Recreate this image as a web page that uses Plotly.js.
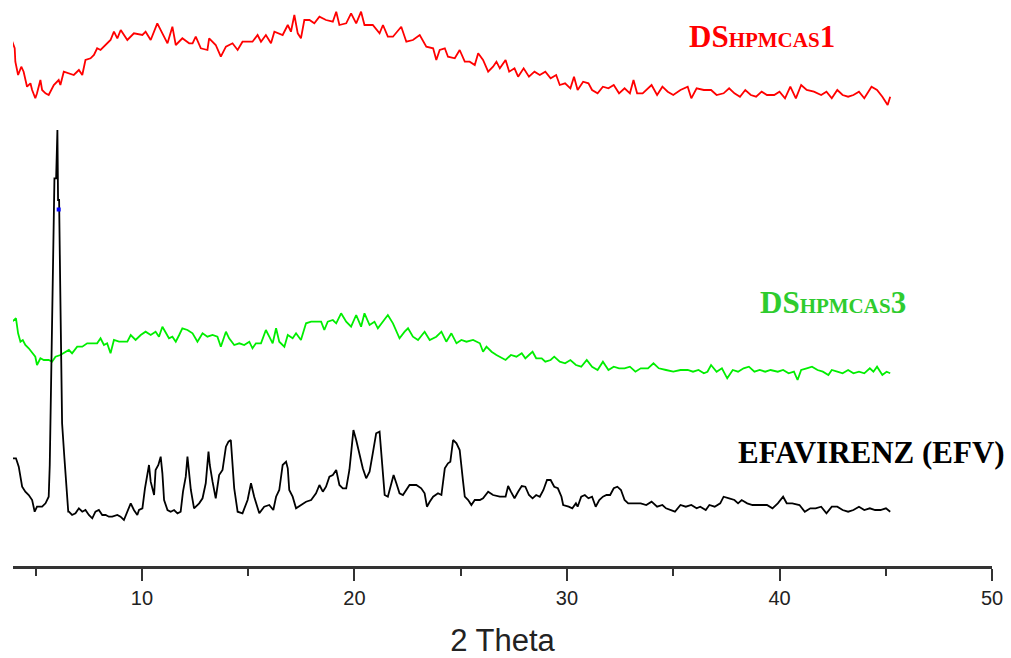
<!DOCTYPE html>
<html>
<head>
<meta charset="utf-8">
<script src="https://cdn.plot.ly/plotly-3.0.1.min.js"></script>
<style>html,body{margin:0;padding:0;background:#fff;}#chart{width:1011px;height:658px;}</style>
</head>
<body>
<div id="chart"></div>
<script>
// ---- Data (2θ in degrees, intensity in arbitrary stacked units) ----
const ds1TwoTheta = [3.88,4.01,4.04,4.17,4.32,4.43,4.59,4.75,4.83,4.98,5.06,5.22,5.30,5.46,5.61,5.85,6.08,6.16,6.32,6.56,6.79,7.03,7.19,7.34,7.58,7.74,7.89,8.05,8.29,8.52,8.68,8.84,9.00,9.31,9.62,10.02,10.17,10.41,10.72,10.96,11.20,11.43,11.59,11.90,12.22,12.38,12.53,12.77,13.08,13.16,13.47,13.71,13.95,14.26,14.50,14.73,15.20,15.44,15.60,15.83,16.07,16.23,16.62,16.86,17.01,17.17,17.33,17.48,17.64,17.88,18.11,18.35,18.66,18.98,19.14,19.29,19.61,19.84,20.08,20.31,20.47,20.86,21.18,21.34,21.57,21.81,22.20,22.44,22.75,23.07,23.38,23.70,23.85,24.01,24.25,24.40,24.72,24.95,25.19,25.42,25.66,25.82,26.05,26.29,26.52,26.68,26.84,
  27.11,27.28,27.53,27.70,27.96,28.21,28.47,28.72,28.98,29.23,29.49,29.66,29.91,30.16,30.33,30.50,30.76,31.01,31.18,31.44,31.69,31.95,32.20,32.45,32.71,32.96,33.13,33.30,33.56,33.81,33.98,34.24,34.49,34.74,35.00,35.34,35.68,35.85,36.10,36.44,36.78,37.04,37.37,37.63,37.88,38.14,38.39,38.65,38.90,39.16,39.41,39.75,40.00,40.26,40.51,40.77,41.02,41.28,41.62,41.96,42.21,42.46,42.72,42.97,43.23,43.48,43.74,43.99,44.33,44.59,44.84,45.09,45.21];
const ds1Intensity = [525.3,517.7,504.3,491,499.3,494.3,479.3,482.7,476,467.7,472.7,486,476,472.7,471,481,486,481,494.3,492.7,491,496,491,506,507.7,511,517.7,516,521,526,534.3,527.7,536,526,532.7,531,534.3,526,542.7,532.7,522.7,539.3,521,527.7,522.7,522.7,529.3,517.7,516,527.7,521,509.3,519.3,522.7,516,524.3,524.3,531,524.3,531,522.7,534.3,531,541,534.3,551,532.7,527.7,546,546,542.7,549.3,546,544.3,554.3,541,542.7,552.7,542.7,554.3,541,541,532.7,541,529.3,529.3,539.3,524.3,526,531,519.3,517.7,506,516,517.7,509.3,507.7,516,504.3,504.3,501,512.7,506,494.3,499.3,504.3,497.7,
  506,494.3,497.7,489.3,497.7,489.3,494.3,491,494.3,487.7,491,481,482.7,477.7,489.3,476,484.3,482.7,476,472.7,479.3,477.7,481,472.7,477.7,472.7,486,472.7,472.7,477.7,481,471,479.3,474.3,471,476,479.3,467.7,477.7,476,476,471,472.7,477.7,472.7,469.3,476,471,469.3,474.3,471,471,474.3,467.7,479.3,467.7,481,476,474.3,471,474.3,467.7,476,471,469.3,471,474.3,467.7,479.3,476,469.3,461,469.3];

const ds3TwoTheta = [3.88,4.07,4.17,4.28,4.39,4.51,4.67,4.83,4.98,5.06,5.22,5.38,5.61,5.77,5.93,6.16,6.40,6.56,6.71,6.95,7.19,7.42,7.66,7.89,8.05,8.21,8.36,8.52,8.68,8.92,9.31,9.47,9.70,9.94,10.17,10.41,10.64,10.80,10.96,11.12,11.27,11.43,11.59,11.75,11.90,12.14,12.38,12.61,12.85,13.08,13.32,13.55,13.71,13.95,14.10,14.34,14.58,14.81,15.05,15.20,15.36,15.60,15.83,15.99,16.15,16.31,16.46,16.70,16.86,17.09,17.25,17.48,17.72,17.96,18.19,18.43,18.58,18.74,18.98,19.14,19.37,19.61,19.84,20.08,20.31,20.47,20.71,20.94,21.10,21.34,21.57,21.81,22.12,22.36,22.52,22.75,22.99,23.30,23.54,23.85,24.09,24.32,24.56,24.80,25.03,25.27,25.58,25.90,26.05,26.21,26.45,26.68,26.84,
  27.11,27.36,27.62,27.87,28.04,28.21,28.38,28.55,28.81,28.98,29.23,29.40,29.66,29.91,30.16,30.42,30.67,30.93,31.18,31.44,31.69,31.95,32.20,32.45,32.71,32.96,33.22,33.47,33.81,34.07,34.32,34.66,35.00,35.34,35.68,35.93,36.19,36.44,36.61,36.78,37.04,37.29,37.54,37.80,38.05,38.31,38.56,38.82,39.07,39.33,39.58,39.92,40.17,40.43,40.68,40.85,41.02,41.28,41.53,41.79,42.04,42.30,42.46,42.72,42.97,43.23,43.48,43.74,43.99,44.25,44.42,44.59,44.84,45.04,45.21];
const ds3Intensity = [244.3,247.7,232.7,224.3,226,221,217.7,212.7,209.3,201,207.7,206,206,204.3,209.3,211,214.3,216,212.7,219.3,219.3,222.7,222.7,222.7,227.7,221,222.7,212.7,226,224.3,224.3,231,226,231,234.3,231,234.3,229.3,239.3,232.7,227.7,229.3,224.3,231,237.7,236,232.7,224.3,232.7,229.3,231,229.3,219.3,234.3,227.7,221,222.7,221,224.3,217.7,222.7,222.7,236,229.3,222.7,237.7,224.3,219.3,231,227.7,232.7,226,242.7,244.3,244.3,244.3,236,244.3,246,242.7,252.7,244.3,239.3,251,239.3,252.7,241,244.3,237.7,244.3,251,242.7,227.7,234.3,237.7,229.3,226,234.3,226,229.3,234.3,224.3,232.7,222.7,226,224.3,226,222.7,214.3,219.3,214.3,211,209.3,
  206,211,209.3,212.7,207.7,211,214.3,207.7,207.7,204.3,206,209.3,204.3,202.7,206,201,199.3,206,199.3,196,204.3,196,199.3,197.7,197.7,199.3,194.3,197.7,197.7,202.7,197.7,196,194.3,196,196,194.3,196,192.7,194.3,201,194.3,197.7,187.7,196,194.3,197.7,199.3,194.3,196,194.3,196,194.3,196,192.7,194.3,186,196,197.7,199.3,196,194.3,191,196,194.3,192.7,196,192.7,194.3,192.7,197.7,194.3,199.3,191,194.3,192.7];

const efvTwoTheta = [3.88,4.07,4.20,4.36,4.51,4.67,4.83,4.95,5.06,5.30,5.46,5.61,5.66,5.72,5.80,5.88,5.96,6.02,6.05,6.10,6.15,6.19,6.24,6.35,6.45,6.53,
  6.56,6.71,6.87,7.03,7.19,7.34,7.50,7.66,7.81,7.97,8.13,8.29,8.44,8.60,8.84,8.99,9.15,9.31,9.47,9.62,9.78,9.86,10.02,10.14,10.25,10.33,10.41,10.49,10.57,10.64,10.77,10.88,10.96,11.04,11.20,11.35,11.51,11.67,11.82,11.93,12.06,12.14,12.22,12.30,12.45,12.69,12.85,13.00,13.13,13.19,13.32,13.47,13.63,13.79,13.95,14.07,14.18,14.26,14.34,14.50,14.73,14.97,15.13,15.28,15.52,15.75,15.99,16.18,16.31,16.46,16.62,16.78,16.86,16.93,17.09,17.25,17.48,17.72,17.96,18.19,18.35,18.51,18.66,18.82,18.98,19.14,19.29,19.45,19.61,19.76,19.84,19.95,20.08,20.24,20.39,20.55,20.71,20.86,21.02,21.18,21.30,21.42,21.57,21.73,21.84,21.97,22.12,22.28,22.44,22.59,22.91,23.14,23.30,23.41,23.54,23.70,23.93,24.09,24.25,24.40,24.51,24.64,24.80,24.95,25.11,25.19,25.35,25.50,25.66,25.90,26.05,26.29,26.52,26.84,
  27.11,27.23,27.36,27.53,27.70,27.87,28.04,28.21,28.38,28.55,28.72,28.89,29.06,29.23,29.40,29.57,29.74,29.82,30.08,30.25,30.42,30.50,30.67,30.84,31.01,31.18,31.35,31.52,31.69,31.86,32.03,32.20,32.37,32.54,32.71,32.88,33.13,33.47,33.73,33.98,34.24,34.49,34.66,34.91,35.08,35.34,35.59,35.85,36.10,36.27,36.53,36.70,36.95,37.21,37.37,37.63,37.88,38.05,38.22,38.48,38.73,39.07,39.41,39.67,39.92,40.17,40.34,40.60,40.94,41.19,41.45,41.70,41.96,42.21,42.46,42.72,42.97,43.23,43.48,43.74,43.99,44.25,44.50,44.75,45.01,45.21];
const efvIntensity = [107.7,107.7,99.3,79.3,74.3,71,66,54.3,59.3,59.3,62.7,69.3,101,182.7,289.3,387.7,387.7,436,366,366,282.7,232.7,142.7,107.7,76,54.3,
  54.3,51,52.7,57.7,54.3,56,51,47.7,54.3,56,51,51,49.3,49.3,51,49.3,46,54.3,62.7,56,51,56,57.7,77.7,92.7,101,84.3,77.7,71,96,101,109.3,92.7,66,56,54.3,56,52.7,54.3,74.3,89.3,109.3,94.3,76,57.7,62.7,67.7,82.7,114.3,101,84.3,67.7,91,96,119.3,124.3,126,104.3,77.7,54.3,52.7,66,82.7,69.3,52.7,59.3,61,56,69.3,76,101,104.3,97.7,76,69.3,57.7,61,64.3,66,72.7,81,74.3,79.3,89.3,91,96,81,77.7,77.7,96,112.7,136,126,111,97.7,87.7,94.3,112.7,132.7,134.3,104.3,71,69.3,82.7,91,82.7,72.7,71,76,81,81,77.7,72.7,59.3,64.3,69.3,72.7,71,97.7,102.7,104.3,126,122.7,116,84.3,69.3,66,61,66,66,67.7,74.3,71,69.3,
  69.3,80,74.3,67.7,74.3,80,79.3,71,67.7,71,69.3,76,86,86,79.3,77.7,69.3,61,59.3,57.7,62.7,59.3,69.3,71,67.7,69.3,59.3,66,69.3,71,71,77.7,79.3,76,66,62.7,62.7,62.7,61,64.3,59.3,61,57.7,56,54.3,61,59.3,61,57.7,59.3,56,61,59.3,62.7,69.3,67.7,66,62.7,66,62.7,61,61,61,57.7,62.7,69.3,62.7,62.7,61,54.3,57.7,57.7,59.3,52.7,59.3,59.3,56,54.3,56,59.3,56,57.7,56,56,57.7,54.3];

const markerTwoTheta = [6.08];
const markerIntensity = [356.5];

const xTickValues = [10, 20, 30, 40, 50];
const xTickLabels = ['10', '20', '30', '40', '50'];

const seriesNames = ['DS<sub>HPMCAS</sub>1', 'DS<sub>HPMCAS</sub>3', 'EFAVIRENZ (EFV)'];

// ---- Traces ----
const traces = [
  {x: ds1TwoTheta, y: ds1Intensity, type: 'scatter', mode: 'lines', name: seriesNames[0],
   line: {color: '#ff0000', width: 1.8}},
  {x: ds3TwoTheta, y: ds3Intensity, type: 'scatter', mode: 'lines', name: seriesNames[1],
   line: {color: '#00ee00', width: 1.8}},
  {x: efvTwoTheta, y: efvIntensity, type: 'scatter', mode: 'lines', name: seriesNames[2],
   line: {color: '#000000', width: 1.8}},
  {x: markerTwoTheta, y: markerIntensity, type: 'scatter', mode: 'markers', showlegend: false,
   marker: {color: '#0000ff', symbol: 'square', size: 4}}
];

const labelFont = {family: '"Liberation Serif", "Times New Roman", serif', size: 31, weight: 'bold'};

const layout = {
  width: 1011, height: 658,
  margin: {l: 13, r: 19, t: 0, b: 92, pad: 0},
  paper_bgcolor: '#ffffff', plot_bgcolor: '#ffffff',
  showlegend: false, hovermode: false,
  xaxis: {
    range: [3.93, 50], showgrid: false, zeroline: false,
    showline: true, linecolor: '#333333', linewidth: 2.5,
    ticks: 'outside', ticklen: 12, tickwidth: 2, tickcolor: '#333333',
    tickvals: xTickValues, ticktext: xTickLabels,
    minor: {tickvals: [5, 15, 25, 35, 45], ticks: 'outside', ticklen: 7, tickwidth: 2, tickcolor: '#333333'},
    tickfont: {family: '"Liberation Sans", Arial, sans-serif', size: 20, color: '#222222'},
    automargin: false,
    title: {text: '2 Theta', standoff: 22, font: {family: '"Liberation Sans", Arial, sans-serif', size: 31, color: '#222222'}}
  },
  yaxis: {range: [0, 566], visible: false, showgrid: false, zeroline: false, fixedrange: true},
  annotations: [
    {xref: 'paper', yref: 'paper', x: 0.765, y: 0.935, xanchor: 'center', yanchor: 'middle', showarrow: false,
     text: 'DS<span style="font-size:21px">HPMCAS</span>1', font: Object.assign({}, labelFont, {color: '#ff0000'})},
    {xref: 'paper', yref: 'paper', x: 0.838, y: 0.465, xanchor: 'center', yanchor: 'middle', showarrow: false,
     text: 'DS<span style="font-size:21px">HPMCAS</span>3', font: Object.assign({}, labelFont, {color: '#2ecc2e'})},
    {xref: 'paper', yref: 'paper', x: 0.877, y: 0.200, xanchor: 'center', yanchor: 'middle', showarrow: false,
     text: 'EFAVIRENZ (EFV)', font: Object.assign({}, labelFont, {color: '#000000'})}
  ]
};

Plotly.newPlot('chart', traces, layout, {displayModeBar: false, staticPlot: true});
</script>
</body>
</html>
